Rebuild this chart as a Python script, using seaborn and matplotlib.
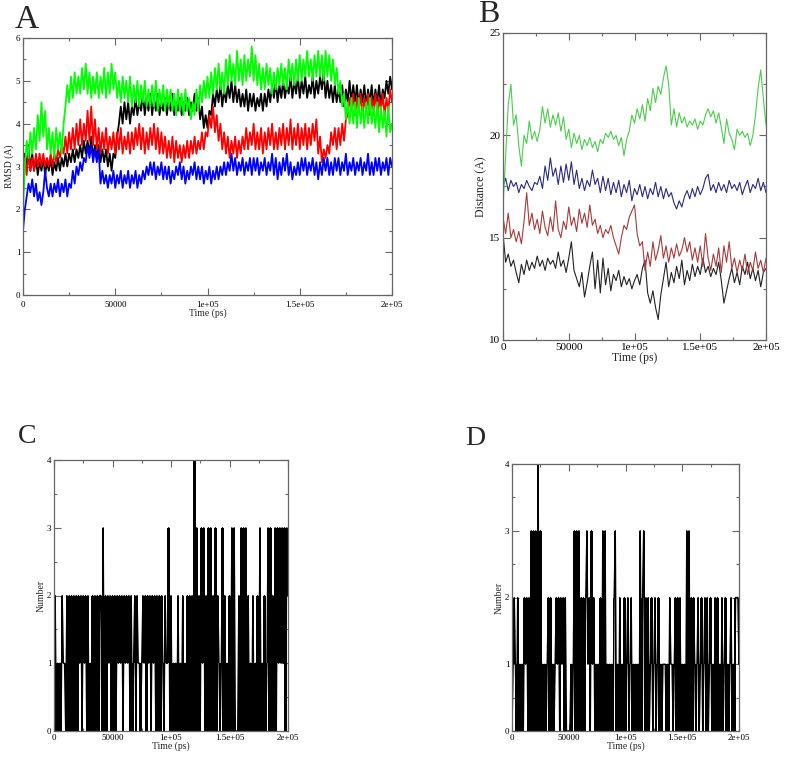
import numpy as np
import pandas as pd
import matplotlib
matplotlib.use("Agg")
import matplotlib.pyplot as plt
import seaborn as sns
from matplotlib.ticker import MultipleLocator

# ---------------- data ----------------
x_ticks = [0, 50000, 100000, 150000, 200000]
x_tick_labels = ["0", "50000", "1e+05", "1.5e+05", "2e+05"]

# Panel A: RMSD (A), sampled every 1000 ps
time_a = list(range(0, 200001, 1000))
rmsd_black = [
    2.7, 3.3, 3.0, 3.5, 2.9, 3.3, 2.9, 3.2, 2.8, 3.1,
    2.9, 3.2, 2.8, 3.1, 2.9, 3.2, 2.8, 3.1, 2.9, 3.2,
    2.9, 3.2, 3.0, 3.3, 3.0, 3.3, 3.1, 3.4, 3.1, 3.4,
    3.2, 3.5, 3.2, 3.6, 3.3, 3.6, 3.3, 3.7, 3.2, 3.5,
    3.2, 3.5, 3.1, 3.4, 3.1, 3.4, 3.0, 3.3, 2.9, 3.3,
    3.2, 3.7, 4.0, 4.4, 4.0, 4.5, 4.1, 4.5, 4.0, 4.4,
    4.2, 4.6, 4.2, 4.5, 4.3, 4.7, 4.2, 4.6, 4.3, 4.7,
    4.2, 4.6, 4.3, 4.7, 4.2, 4.5, 4.3, 4.6, 4.2, 4.6,
    4.3, 4.7, 4.2, 4.5, 4.3, 4.6, 4.2, 4.5, 4.3, 4.6,
    4.2, 4.5, 4.3, 4.7, 4.3, 4.6, 4.1, 4.4, 3.9, 4.2,
    3.9, 4.3, 4.2, 4.7, 4.4, 4.8, 4.5, 4.9, 4.4, 4.8,
    4.5, 4.9, 4.6, 5.0, 4.5, 4.9, 4.5, 4.8, 4.4, 4.7,
    4.4, 4.8, 4.3, 4.7, 4.4, 4.7, 4.3, 4.6, 4.4, 4.7,
    4.3, 4.7, 4.4, 4.8, 4.5, 4.9, 4.6, 5.0, 4.5, 4.9,
    4.6, 5.0, 4.6, 4.9, 4.7, 5.1, 4.6, 5.0, 4.7, 5.1,
    4.6, 5.0, 4.7, 5.1, 4.6, 4.9, 4.7, 5.1, 4.6, 5.0,
    4.7, 5.1, 4.8, 5.2, 4.6, 5.0, 4.6, 4.9, 4.5, 4.9,
    4.5, 4.8, 4.5, 4.9, 4.4, 4.8, 4.5, 5.0, 4.5, 4.9,
    4.5, 4.9, 4.4, 4.8, 4.5, 4.9, 4.4, 4.8, 4.5, 4.9,
    4.4, 4.8, 4.5, 4.9, 4.4, 4.8, 4.6, 5.0, 4.7, 5.1,
    4.8]
rmsd_red = [
    2.6, 3.2, 2.8, 3.3, 2.9, 3.2, 2.9, 3.3, 3.0, 3.3,
    3.0, 3.3, 3.0, 3.2, 3.0, 3.3, 3.0, 3.3, 3.1, 3.4,
    3.2, 3.5, 3.3, 3.7, 3.3, 3.8, 3.4, 3.9, 3.4, 4.0,
    3.5, 4.1, 3.5, 4.0, 3.6, 4.3, 3.6, 4.4, 3.5, 4.1,
    3.4, 3.9, 3.3, 3.8, 3.4, 3.9, 3.3, 3.7, 3.4, 3.8,
    3.3, 3.8, 3.4, 3.9, 3.3, 3.7, 3.4, 3.8, 3.3, 3.8,
    3.4, 3.9, 3.5, 4.0, 3.4, 3.9, 3.3, 3.8, 3.4, 3.9,
    3.5, 4.0, 3.4, 3.9, 3.3, 3.8, 3.3, 3.7, 3.2, 3.6,
    3.2, 3.7, 3.1, 3.6, 3.2, 3.5, 3.1, 3.5, 3.2, 3.6,
    3.2, 3.6, 3.3, 3.7, 3.3, 3.6, 3.4, 3.8, 3.4, 3.8,
    3.7, 4.2, 3.9, 4.4, 3.8, 4.2, 3.6, 4.0, 3.4, 3.8,
    3.3, 3.7, 3.2, 3.6, 3.3, 3.7, 3.2, 3.6, 3.3, 3.7,
    3.4, 3.9, 3.4, 3.8, 3.5, 4.0, 3.4, 3.8, 3.4, 3.9,
    3.3, 3.8, 3.4, 3.9, 3.5, 4.0, 3.4, 3.8, 3.4, 3.9,
    3.5, 4.0, 3.4, 3.9, 3.5, 4.1, 3.4, 3.9, 3.5, 4.0,
    3.4, 3.9, 3.5, 4.0, 3.4, 3.9, 3.5, 4.0, 3.6, 4.1,
    3.3, 3.7, 3.1, 3.4, 3.2, 3.5, 3.3, 3.8, 3.5, 3.9,
    3.4, 3.9, 3.5, 4.0, 3.6, 4.1, 4.2, 4.6, 4.3, 4.7,
    4.2, 4.6, 4.3, 4.7, 4.2, 4.6, 4.3, 4.7, 4.2, 4.6,
    4.3, 4.7, 4.2, 4.6, 4.3, 4.7, 4.2, 4.6, 4.3, 4.8,
    4.5]
rmsd_green = [
    2.0, 3.0, 3.6, 3.2, 3.8, 3.3, 3.9, 3.4, 4.2, 3.6,
    4.5, 3.7, 4.3, 3.4, 3.9, 3.3, 3.8, 3.2, 3.9, 3.4,
    3.8, 3.3, 4.0, 4.4, 4.9, 4.5, 5.1, 4.6, 5.2, 4.7,
    5.1, 4.7, 5.3, 4.8, 5.4, 4.7, 5.2, 4.6, 5.1, 4.7,
    5.2, 4.6, 5.1, 4.7, 5.3, 4.6, 5.2, 4.7, 5.4, 4.8,
    5.2, 4.6, 5.0, 4.5, 5.1, 4.6, 5.0, 4.5, 5.1, 4.4,
    4.9, 4.5, 5.0, 4.4, 4.9, 4.5, 5.0, 4.4, 4.8, 4.4,
    4.9, 4.4, 5.0, 4.3, 4.8, 4.4, 4.9, 4.3, 4.8, 4.4,
    4.8, 4.3, 4.7, 4.2, 4.8, 4.3, 4.7, 4.2, 4.8, 4.3,
    4.6, 4.1, 4.5, 4.2, 4.8, 4.3, 4.9, 4.5, 5.0, 4.6,
    5.1, 4.6, 5.2, 4.7, 5.3, 4.8, 5.4, 4.8, 5.2, 4.7,
    5.5, 4.9, 5.6, 5.0, 5.4, 4.9, 5.7, 5.0, 5.5, 4.9,
    5.6, 5.0, 5.5, 5.1, 5.8, 5.0, 5.6, 4.9, 5.4, 4.8,
    5.3, 4.8, 5.4, 4.9, 5.3, 4.7, 5.2, 4.8, 5.3, 4.9,
    5.4, 4.9, 5.3, 4.8, 5.5, 5.0, 5.4, 4.9, 5.5, 5.0,
    5.6, 5.0, 5.5, 5.1, 5.7, 5.1, 5.5, 5.0, 5.6, 5.1,
    5.7, 5.1, 5.6, 5.0, 5.7, 5.1, 5.6, 5.0, 5.5, 4.9,
    5.3, 4.7, 5.0, 4.4, 4.7, 4.1, 4.5, 4.0, 4.6, 4.0,
    4.5, 3.9, 4.6, 4.0, 4.4, 3.9, 4.5, 4.0, 4.6, 4.0,
    4.4, 3.9, 4.5, 3.8, 4.4, 3.9, 4.3, 3.7, 4.4, 3.8,
    4.0]
rmsd_blue = [
    1.5, 2.0, 2.3, 2.6, 2.4, 2.7, 2.3, 2.6, 2.2, 2.4,
    2.1, 2.4, 2.9, 2.5, 2.3, 2.6, 2.3, 2.6, 2.4, 2.7,
    2.3, 2.6, 2.4, 2.7, 2.3, 2.6, 2.5, 2.9, 2.6, 3.0,
    2.8, 3.1, 2.9, 3.2, 3.1, 3.5, 3.2, 3.5, 3.1, 3.4,
    3.1, 3.4, 2.6, 2.9, 2.6, 2.8, 2.5, 2.8, 2.6, 2.9,
    2.5, 2.8, 2.6, 2.9, 2.5, 2.8, 2.6, 2.9, 2.5, 2.8,
    2.6, 2.9, 2.5, 2.8, 2.6, 2.9, 2.7, 3.0, 2.8, 3.1,
    2.8, 3.1, 2.7, 3.0, 2.8, 3.1, 2.7, 3.0, 2.7, 3.0,
    2.6, 2.9, 2.7, 3.0, 2.8, 3.1, 2.7, 3.0, 2.6, 2.9,
    2.7, 3.0, 2.8, 3.1, 2.7, 3.0, 2.7, 3.0, 2.6, 2.9,
    2.7, 3.0, 2.6, 2.9, 2.7, 3.0, 2.7, 3.0, 2.8, 3.1,
    2.8, 3.1, 2.9, 3.3, 2.9, 3.2, 2.8, 3.1, 2.9, 3.2,
    2.8, 3.1, 2.9, 3.2, 2.8, 3.2, 2.9, 3.2, 2.8, 3.1,
    2.9, 3.2, 2.8, 3.1, 2.9, 3.3, 2.8, 3.2, 2.7, 3.1,
    2.8, 3.2, 2.9, 3.3, 2.8, 3.1, 2.7, 3.0, 2.8, 3.1,
    2.8, 3.2, 2.9, 3.2, 2.8, 3.1, 2.9, 3.2, 2.8, 3.1,
    2.7, 3.1, 2.8, 3.2, 2.9, 3.2, 2.8, 3.1, 2.8, 3.2,
    2.9, 3.2, 2.8, 3.1, 2.9, 3.3, 2.8, 3.1, 2.9, 3.2,
    2.8, 3.1, 2.9, 3.2, 2.8, 3.1, 2.9, 3.3, 2.8, 3.1,
    2.8, 3.2, 2.9, 3.2, 2.8, 3.1, 2.9, 3.2, 2.8, 3.2,
    3.0]

# Panel B: Distance (A), sampled every 2000 ps
time_b = list(range(0, 200001, 2000))
dist_green = [
    16.5, 19.0, 21.5, 22.5, 20.5, 21.0, 19.5, 18.5, 20.0, 19.6,
    20.7, 19.8, 20.2, 19.7, 20.3, 21.4, 20.6, 21.3, 20.4, 21.0,
    20.5, 21.1, 20.2, 20.9, 19.8, 20.3, 19.4, 20.1, 19.6, 20.0,
    19.3, 19.8, 19.5, 19.9, 19.4, 19.7, 19.2, 19.8, 19.6, 20.1,
    19.9, 20.2, 19.8, 20.0, 19.5, 19.9, 19.0, 19.8, 20.2, 21.0,
    20.6, 21.3, 20.8, 21.5, 20.7, 21.8, 21.2, 22.3, 21.6, 22.4,
    22.0, 22.8, 23.4, 22.5, 20.5, 21.3, 20.4, 21.1, 20.6, 20.9,
    20.4, 20.7, 20.5, 20.8, 20.3, 20.7, 20.5, 21.0, 21.3, 20.9,
    21.2, 20.6, 21.1, 20.4, 19.6, 20.8, 20.1, 19.8, 19.3, 20.3,
    20.0, 20.2, 19.9, 20.1, 19.5, 20.0, 21.0, 22.3, 23.2, 21.8,
    20.5]
dist_navy = [
    17.5, 17.9, 17.3, 17.8, 17.5, 17.7, 17.2, 17.6, 17.4, 17.8,
    17.5, 17.3, 17.7, 17.6, 18.0, 17.4, 18.5, 17.8, 18.9, 18.0,
    18.4, 17.6, 18.5, 17.7, 18.6, 17.8, 18.7, 17.6, 18.3, 17.4,
    17.9, 17.3, 17.8, 17.5, 18.3, 17.6, 17.9, 17.2, 18.0, 17.3,
    17.9, 17.1, 17.7, 17.2, 17.8, 17.0, 17.6, 17.2, 17.8, 16.8,
    17.4, 17.1, 17.6, 17.0, 17.5, 16.9, 17.4, 17.1, 17.7, 17.0,
    17.5, 16.9, 17.4, 17.0, 17.2, 16.7, 16.4, 16.8, 16.5, 17.0,
    17.3, 16.9, 17.4, 17.0, 17.5, 17.1, 17.4, 17.9, 18.1, 17.3,
    17.6, 17.2, 17.7, 17.3, 17.6, 17.2, 17.8, 17.4, 17.6, 17.3,
    17.7, 17.1, 17.5, 17.8, 17.2, 17.6, 17.4, 17.9, 17.3, 17.7,
    17.2]
dist_brown = [
    16.0, 15.2, 16.2, 15.0, 15.4, 14.8, 15.3, 14.7, 15.8, 17.2,
    15.6, 16.2, 15.4, 15.9, 15.2, 16.3, 15.5, 15.1, 16.0, 15.3,
    16.8, 15.4, 15.0, 15.8, 15.4, 16.5, 15.6, 16.0, 15.3, 16.4,
    15.7, 16.2, 15.5, 16.6, 15.6, 15.9, 15.2, 15.6, 15.0, 15.4,
    15.2, 15.6, 15.0, 14.6, 14.2, 15.0, 15.6, 15.4, 16.0, 16.3,
    16.6, 15.2, 14.6, 14.8, 13.4, 14.3, 13.6, 14.8, 13.9, 14.4,
    15.1, 14.0, 14.6, 13.8, 14.5, 14.0, 14.7, 14.1, 14.4, 15.0,
    14.3, 14.8, 13.9, 14.5, 13.8, 14.6, 13.6, 15.2, 14.0, 13.4,
    14.2, 13.6, 14.5, 13.3, 14.6, 13.8, 14.8, 13.5, 14.0, 13.3,
    13.9, 13.4, 14.2, 13.2, 13.8, 13.4, 14.3, 13.5, 13.9, 13.3,
    14.0]
dist_black = [
    15.2, 13.8, 14.2, 13.6, 13.9, 13.3, 12.8, 13.7, 13.2, 13.9,
    13.4, 13.8, 13.5, 14.1, 13.6, 13.9, 13.4, 14.0, 13.7, 13.9,
    13.5, 14.3, 13.6, 13.9, 13.3, 14.0, 14.8, 13.4, 13.0, 12.6,
    13.3, 12.1, 12.8, 13.6, 14.3, 12.5, 13.9, 12.3, 14.0, 12.7,
    13.5, 12.4, 13.2, 12.9, 13.4, 12.6, 13.1, 12.7, 13.0, 12.5,
    12.9, 13.2, 12.7, 13.5, 13.9, 12.3, 11.8, 12.4, 11.6, 11.0,
    12.2, 13.0, 13.8, 12.6, 13.3, 12.8, 13.6, 13.0, 13.9, 12.7,
    13.4, 12.9, 13.7, 13.1, 13.6, 13.2, 14.0, 13.3, 13.6, 13.1,
    13.5, 13.2, 13.8, 12.9, 11.8, 12.4, 13.0, 13.5, 12.8, 13.3,
    12.7, 13.6, 13.2, 13.8, 13.0, 13.5, 12.9, 13.4, 12.6, 13.3,
    13.5]

# Panels C and D: hydrogen-bond number, one digit every 1000 ps
time_cd = list(range(0, 200001, 1000))
number_c = ("020" "101021102020" "20202021202120201"
            "02020202" "203020212" "0202021212" "021212020"
            "12021101" "21202120212020202" "102113020101"
            "020102010202" "020" "40302031302030302030"
            "2101302010" "20303000203030302" "0102010203010201"
            "303020303131313032")
number_d = ("01210201010" "212020303030403" "0101012020101"
            "2120212020" "000" "101" "30303020202" "3120312"
            "0101" "020303" "0101" "010230102010" "2012012010101"
            "030230202" "01201201201" "0111" "01021101" "20202"
            "01010" "3030" "202"
            "1012012012" "0201201020" "2010201201" "0120102221")

# ---------------- style ----------------
sns.set_style("ticks")
plt.rcParams['font.family'] = ['Liberation Serif', 'DejaVu Serif']
plt.rcParams['axes.linewidth'] = 0.8

W, H = 787, 759
fig = plt.figure(figsize=(W / 100, H / 100), dpi=100)


def box(l, t, r, b):
    return [l / W, 1 - b / H, (r - l) / W, (b - t) / H]


axA = fig.add_axes(box(23, 38, 392, 295))
axB = fig.add_axes(box(503, 33, 766, 340))
axC = fig.add_axes(box(54, 460, 288, 731))
axD = fig.add_axes(box(512, 464, 739, 731))


def style(ax, ylim, ymaj, ymin, fs, ylabel, xpad=2):
    ax.set_xlim(0, 200000)
    ax.set_ylim(*ylim)
    ax.set_xticks(x_ticks)
    ax.set_xticklabels(x_tick_labels)
    ax.xaxis.set_minor_locator(MultipleLocator(25000))
    ax.yaxis.set_major_locator(MultipleLocator(ymaj))
    ax.yaxis.set_minor_locator(MultipleLocator(ymin))
    ax.tick_params(which='both', direction='in', top=True, right=True,
                   color='#666666', labelcolor='black', labelsize=fs, pad=2)
    ax.tick_params(axis='x', which='major', pad=xpad)
    ax.tick_params(which='major', length=5, width=0.8)
    ax.tick_params(which='minor', length=2.5, width=0.8)
    for s in ax.spines.values():
        s.set_color('#666666')
        s.set_linewidth(0.9)
        s.set_visible(True)
    ax.set_xlabel("Time (ps)", fontsize=fs + 0.5, labelpad=0)
    ax.set_ylabel(ylabel, fontsize=fs + 0.5, labelpad=1)


# Panel A
dfA = pd.concat([
    pd.DataFrame({"t": time_a, "v": rmsd_black, "s": "black"}),
    pd.DataFrame({"t": time_a, "v": rmsd_red, "s": "red"}),
    pd.DataFrame({"t": time_a, "v": rmsd_green, "s": "green"}),
    pd.DataFrame({"t": time_a, "v": rmsd_blue, "s": "blue"}),
])
sns.lineplot(data=dfA, x="t", y="v", hue="s",
             hue_order=["black", "red", "green", "blue"],
             palette={"black": "#000000", "red": "#ff0000",
                      "green": "#00ff00", "blue": "#0000ff"},
             estimator=None, sort=False, legend=False, lw=1.3, ax=axA)
style(axA, (0, 6), 1, 0.5, 6.5, "RMSD (A)", xpad=4)

# Panel B
dfB = pd.concat([
    pd.DataFrame({"t": time_b, "v": dist_black, "s": "black"}),
    pd.DataFrame({"t": time_b, "v": dist_brown, "s": "brown"}),
    pd.DataFrame({"t": time_b, "v": dist_navy, "s": "navy"}),
    pd.DataFrame({"t": time_b, "v": dist_green, "s": "green"}),
])
sns.lineplot(data=dfB, x="t", y="v", hue="s",
             hue_order=["black", "brown", "navy", "green"],
             palette={"black": "#222222", "brown": "#a83a3a",
                      "navy": "#2a2a80", "green": "#4ccc4c"},
             estimator=None, sort=False, legend=False, lw=0.8, ax=axB)
style(axB, (10, 25), 5, 2.5, 8, "Distance (A)")


def draw_counts(ax, digits):
    v = np.array([int(c) for c in digits], dtype=float)
    t = np.array(time_cd[:len(v)], dtype=float)
    lo = np.minimum(v[:-1], v[1:])
    hi = np.maximum(v[:-1], v[1:])
    ax.fill_between(t, np.append(lo, lo[-1]), np.append(hi, hi[-1]),
                    step='post', color='black', lw=0)
    sns.lineplot(x=t, y=v, color='black', lw=1.0, estimator=None,
                 sort=False, ax=ax)


draw_counts(axC, number_c)
style(axC, (0, 4), 1, 0.5, 6.5, "Number")
draw_counts(axD, number_d)
style(axD, (0, 4), 1, 0.5, 6.5, "Number")

# panel letters
fig.text(15 / W, 1 - 28 / H, "A", fontsize=24, va='baseline', ha='left')
fig.text(478 / W, 1 - 22 / H, "B", fontsize=23, va='baseline', ha='left')
fig.text(18 / W, 1 - 443 / H, "C", fontsize=20, va='baseline', ha='left')
fig.text(465 / W, 1 - 445 / H, "D", fontsize=20, va='baseline', ha='left')

fig.savefig("out.png", dpi=100)
